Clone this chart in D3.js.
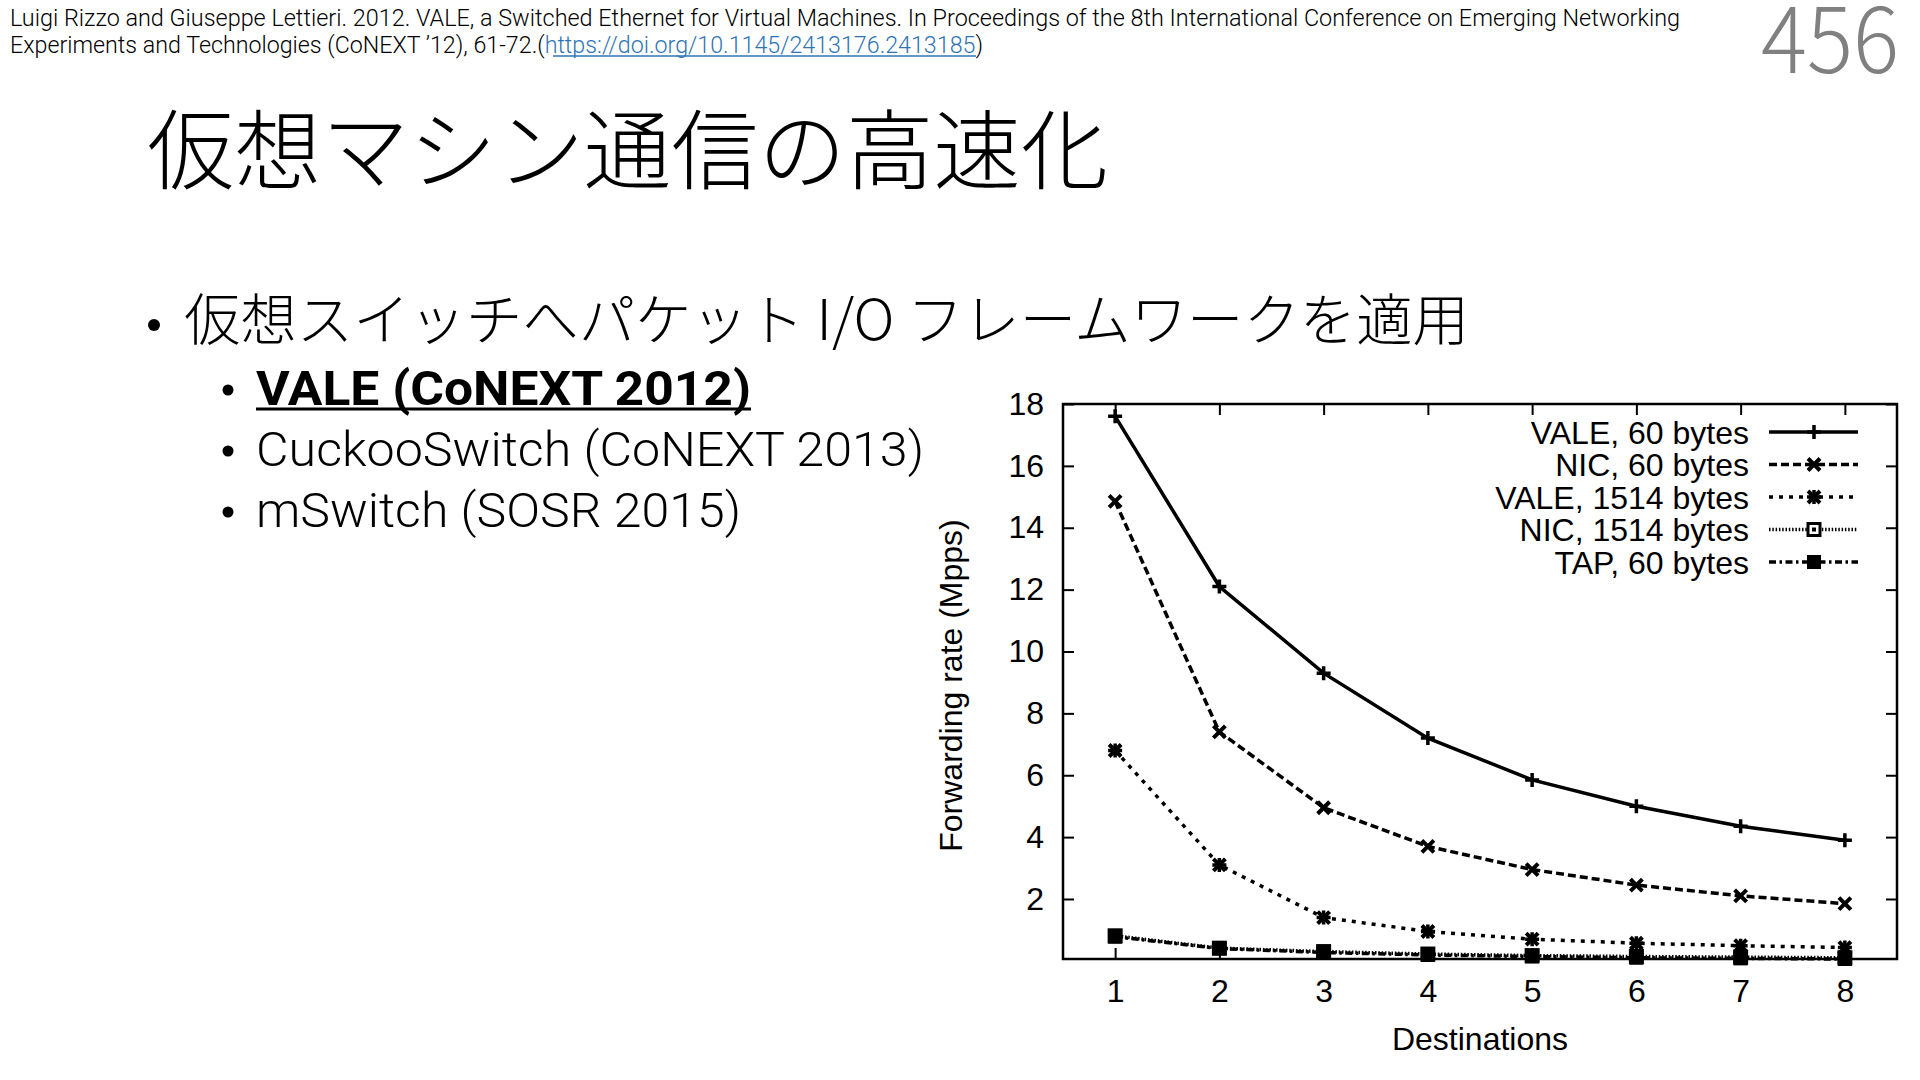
<!DOCTYPE html>
<html lang="ja">
  <head>
    <meta charset="UTF-8" />
    <title>仮想マシン通信の高速化</title>
    <script src="https://d3js.org/d3.v7.min.js"></script>
    <style>
      body { margin: 0; background: #fff; }
      svg { display: block; }
    </style>
  </head>
  <body>
    <div id="slide"></div>
    <script>
      // chart data
      var destinations = [1, 2, 3, 4, 5, 6, 7, 8];
      var vale60 = [17.6, 12.1, 9.3, 7.2, 5.85, 5.0, 4.35, 3.9];
      var nic60 = [14.85, 7.4, 4.95, 3.7, 2.95, 2.45, 2.1, 1.85];
      var vale1514 = [6.8, 3.1, 1.4, 0.95, 0.7, 0.57, 0.49, 0.43];
      var nic1514 = [0.81, 0.41, 0.3, 0.22, 0.17, 0.14, 0.12, 0.1];
      var tap60 = [0.78, 0.4, 0.27, 0.19, 0.14, 0.1, 0.08, 0.06];
      var seriesNames = [
        "VALE, 60 bytes",
        "NIC, 60 bytes",
        "VALE, 1514 bytes",
        "NIC, 1514 bytes",
        "TAP, 60 bytes",
      ];
      var yTicks = [2, 4, 6, 8, 10, 12, 14, 16, 18];

      // slide text
      var citation1 =
        "Luigi Rizzo and Giuseppe Lettieri. 2012. VALE, a Switched Ethernet for Virtual Machines. In Proceedings of the 8th International Conference on Emerging Networking";
      var citation2 = "Experiments and Technologies (CoNEXT ’12), 61-72.(";
      var citationLink = "https://doi.org/10.1145/2413176.2413185";
      var pageNumber = "456";
      var title = "仮想マシン通信の高速化";
      var bullet = "仮想スイッチへパケット I/O フレームワークを適用";
      var subBullets = [
        "VALE (CoNEXT 2012)",
        "CuckooSwitch (CoNEXT 2013)",
        "mSwitch (SOSR 2015)",
      ];

      var jp = "'Noto Sans CJK JP', 'Noto Sans', sans-serif";
      var latin = "Roboto, 'Liberation Sans', sans-serif";
      var helv = "'Liberation Sans', Arial, sans-serif";

      var svg = d3
        .select("#slide")
        .append("svg")
        .attr("width", 1920)
        .attr("height", 1080);

      // header
      svg.append("text")
        .attr("x", 10).attr("y", 26)
        .attr("font-family", latin).attr("font-size", 23).attr("font-weight", 300).attr("fill", "#000")
        .attr("textLength", 1670).attr("lengthAdjust", "spacingAndGlyphs")
        .text(citation1);
      var c2 = svg.append("text")
        .attr("x", 10).attr("y", 53)
        .attr("font-family", latin).attr("font-size", 23).attr("font-weight", 300).attr("fill", "#000")
        .attr("textLength", 973).attr("lengthAdjust", "spacingAndGlyphs");
      c2.append("tspan").text(citation2);
      c2.append("tspan").attr("fill", "#2E74B5").text(citationLink);
      c2.append("tspan").text(")");
      svg.append("line")
        .attr("x1", 553).attr("x2", 976).attr("y1", 56).attr("y2", 56)
        .attr("stroke", "#2E74B5").attr("stroke-width", 1.5);

      svg.append("text")
        .attr("x", 1761).attr("y", 73)
        .attr("font-family", jp).attr("font-size", 90).attr("font-weight", 300)
        .attr("fill", "#808080")
        .attr("textLength", 138).attr("lengthAdjust", "spacingAndGlyphs")
        .text(pageNumber);

      svg.append("text")
        .attr("x", 147).attr("y", 183)
        .attr("font-family", jp).attr("font-size", 87).attr("font-weight", 300)
        .attr("textLength", 961).attr("lengthAdjust", "spacingAndGlyphs")
        .text(title);

      svg.append("circle").attr("cx", 154).attr("cy", 325).attr("r", 6);
      svg.append("text")
        .attr("x", 184).attr("y", 340)
        .attr("font-family", jp).attr("font-size", 56).attr("font-weight", 300)
        .attr("textLength", 1285).attr("lengthAdjust", "spacingAndGlyphs")
        .text(bullet);

      var subBase = [405, 466, 527];
      var subLen = [495, 668, 485];
      subBullets.forEach(function (s, i) {
        svg.append("circle").attr("cx", 228).attr("cy", subBase[i] - 15).attr("r", 5.5);
        svg.append("text")
          .attr("x", 256).attr("y", subBase[i])
          .attr("font-family", latin).attr("font-size", 49)
          .attr("font-weight", i == 0 ? 700 : 300)
          .attr("textLength", subLen[i]).attr("lengthAdjust", "spacingAndGlyphs")
          .text(s);
      });
      svg.append("line")
        .attr("x1", 256).attr("x2", 751).attr("y1", 409).attr("y2", 409)
        .attr("stroke", "#000").attr("stroke-width", 3);

      // chart
      var plot = { left: 1063, right: 1897, top: 404, bottom: 959 };
      var x = d3.scaleLinear().domain([0.5, 8.5]).range([plot.left, plot.right]);
      var y = d3.scaleLinear().domain([0.06, 18]).range([plot.bottom, plot.top]);

      function styleAxis(g) {
        g.select(".domain").remove();
        g.attr("font-family", helv).attr("font-size", 32);
        g.selectAll("line").attr("stroke", "#000").attr("stroke-width", 2);
        g.selectAll("text").attr("fill", "#000");
      }

      svg.append("g")
        .attr("transform", "translate(0," + plot.bottom + ")")
        .call(d3.axisBottom(x).tickValues(destinations).tickSize(-11).tickPadding(20).tickFormat(d3.format("d")))
        .call(styleAxis);
      svg.append("g")
        .attr("transform", "translate(0," + plot.top + ")")
        .call(d3.axisTop(x).tickValues(destinations).tickSize(-11).tickFormat(""))
        .call(styleAxis);
      svg.append("g")
        .attr("transform", "translate(" + plot.left + ",0)")
        .call(d3.axisLeft(y).tickValues(yTicks).tickSize(-11).tickPadding(19).tickFormat(d3.format("d")))
        .call(styleAxis);
      svg.append("g")
        .attr("transform", "translate(" + plot.right + ",0)")
        .call(d3.axisRight(y).tickValues(yTicks).tickSize(-11).tickFormat(""))
        .call(styleAxis);

      svg.append("rect")
        .attr("x", plot.left).attr("y", plot.top)
        .attr("width", plot.right - plot.left).attr("height", plot.bottom - plot.top)
        .attr("fill", "none").attr("stroke", "#000").attr("stroke-width", 2.5);

      svg.append("text")
        .attr("transform", "translate(962," + ((plot.top + plot.bottom) / 2 + 4) + ") rotate(-90)")
        .attr("text-anchor", "middle")
        .attr("font-family", helv).attr("font-size", 32)
        .text("Forwarding rate (Mpps)");
      svg.append("text")
        .attr("x", (plot.left + plot.right) / 2).attr("y", 1050)
        .attr("text-anchor", "middle")
        .attr("font-family", helv).attr("font-size", 32)
        .text("Destinations");

      var series = [vale60, nic60, vale1514, nic1514, tap60];
      var styles = [
        { dash: null, marker: "plus" },
        { dash: "8,4", marker: "cross" },
        { dash: "4,6", marker: "star" },
        { dash: "1.5,1.8", marker: "box" },
        { dash: "7,3.5,2.5,3.5", marker: "boxFilled" },
      ];

      function drawMarker(g, type, cx, cy) {
        var m = g.append("g").attr("transform", "translate(" + cx + "," + cy + ")");
        if (type == "plus" || type == "star") {
          m.append("path").attr("d", "M-7,0H7M0,-7V7")
            .attr("stroke", "#000").attr("stroke-width", 3.5);
        }
        if (type == "cross" || type == "star") {
          m.append("path").attr("d", "M-6,-6L6,6M-6,6L6,-6")
            .attr("stroke", "#000").attr("stroke-width", 4);
        }
        if (type == "box") {
          m.append("rect").attr("x", -6).attr("y", -6).attr("width", 12).attr("height", 12)
            .attr("fill", "#fff").attr("stroke", "#000").attr("stroke-width", 3);
          m.append("rect").attr("x", -2).attr("y", -2).attr("width", 4).attr("height", 4);
        }
        if (type == "boxFilled") {
          m.append("rect").attr("x", -7).attr("y", -7).attr("width", 14).attr("height", 14);
        }
      }

      var line = d3.line()
        .x(function (d, i) { return x(destinations[i]); })
        .y(function (d) { return y(d); });

      series.forEach(function (values, s) {
        var g = svg.append("g");
        g.append("path")
          .datum(values)
          .attr("d", line)
          .attr("fill", "none")
          .attr("stroke", "#000")
          .attr("stroke-width", 3.5)
          .attr("stroke-dasharray", styles[s].dash);
        values.forEach(function (v, i) {
          drawMarker(g, styles[s].marker, x(destinations[i]), y(v));
        });
      });

      // legend
      var legendRight = plot.right - 148;
      series.forEach(function (values, s) {
        var ly = plot.top + 28 + s * 32.5;
        var g = svg.append("g");
        g.append("text")
          .attr("x", legendRight).attr("y", ly + 11.5)
          .attr("text-anchor", "end")
          .attr("font-family", helv).attr("font-size", 32)
          .text(seriesNames[s]);
        g.append("line")
          .attr("x1", legendRight + 20).attr("x2", legendRight + 109)
          .attr("y1", ly).attr("y2", ly)
          .attr("stroke", "#000").attr("stroke-width", 3.5)
          .attr("stroke-dasharray", styles[s].dash);
        drawMarker(g, styles[s].marker, legendRight + 65, ly);
      });
    </script>
  </body>
</html>
